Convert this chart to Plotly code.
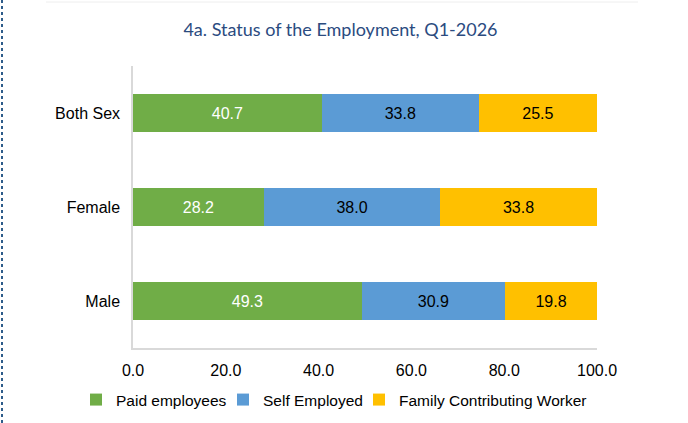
import plotly.graph_objects as go

categories = ["Both Sex", "Female", "Male"]
paid_employees = [40.7, 28.2, 49.3]
self_employed = [33.8, 38.0, 30.9]
family_workers = [25.5, 33.8, 19.8]
x_ticks = [0, 20, 40, 60, 80, 100]

series = [
    ("Paid employees", paid_employees, "#70AD47", "#FFFFFF", "legend"),
    ("Self Employed", self_employed, "#5B9BD5", "#000000", "legend2"),
    ("Family Contributing Worker", family_workers, "#FFC000", "#000000", "legend3"),
]

FONT = "Liberation Sans, Arial, sans-serif"

fig = go.Figure()
for name, vals, color, tcolor, lg in series:
    fig.add_trace(go.Bar(
        y=categories, x=vals, name=name, orientation="h", legend=lg,
        marker=dict(color=color, line=dict(width=0)),
        text=[f"{v:.1f}" for v in vals], texttemplate="%{text}",
        textposition="inside", insidetextanchor="middle", textangle=0,
        textfont=dict(color=tcolor, size=16, family=FONT),
        hoverinfo="skip",
    ))

W, H = 688, 423
ml, mr, mt, mb = 133, 91, 66, 75
pw, ph = W - ml - mr, H - mt - mb

def px(x):
    return (x - ml) / pw

def py(y):
    return 1 - (y - mt) / ph

def legend_at(xpix):
    return dict(orientation="h", xref="container", x=xpix / W, xanchor="left",
                yref="container", y=1 - 400 / H, yanchor="middle",
                font=dict(size=15.5, color="#000000", family=FONT),
                itemwidth=30, bgcolor="rgba(0,0,0,0)", borderwidth=0)

fig.update_layout(
    width=W, height=H,
    margin=dict(l=ml, r=mr, t=mt, b=mb),
    barmode="stack", bargap=0.6,
    paper_bgcolor="white", plot_bgcolor="white",
    title=dict(text="4a. Status of the Employment, Q1-2026",
               xref="container", x=340.5 / W, xanchor="center",
               yref="container", y=1 - 30 / H, yanchor="middle",
               font=dict(family="Lato, Noto Sans, sans-serif", size=18, color="#2B4B7F")),
    font=dict(family=FONT, size=16, color="#000000"),
    xaxis=dict(range=[0, 100], tickvals=x_ticks, tickformat=".1f",
               showgrid=False, zeroline=False, showline=True, linecolor="#D9D9D9",
               linewidth=1.5, ticks="outside", ticklen=7, tickcolor="rgba(0,0,0,0)",
               tickfont=dict(size=16, color="#000000"), automargin=False,
               fixedrange=True),
    yaxis=dict(categoryorder="array", categoryarray=categories, autorange="reversed",
               showgrid=False, zeroline=False, showline=True, linecolor="#D9D9D9",
               linewidth=1.5, ticks="outside", ticklen=8, tickcolor="rgba(0,0,0,0)",
               tickfont=dict(size=16, color="#000000"), automargin=False,
               fixedrange=True),
    legend=legend_at(76),
    legend2=legend_at(223),
    legend3=legend_at(359),
    showlegend=True,
    shapes=[
        dict(type="line", xref="paper", yref="paper", x0=px(2), x1=px(2), y0=py(0), y1=py(423),
             line=dict(color="#2E5C8A", width=2, dash="dot")),
        dict(type="line", xref="paper", yref="paper", x0=px(46), x1=px(638), y0=py(2), y1=py(2),
             line=dict(color="#EEEEEE", width=1)),
    ],
)

fig.write_html("out.html", config={"displayModeBar": False},
               post_script="document.body.style.margin='0';")
